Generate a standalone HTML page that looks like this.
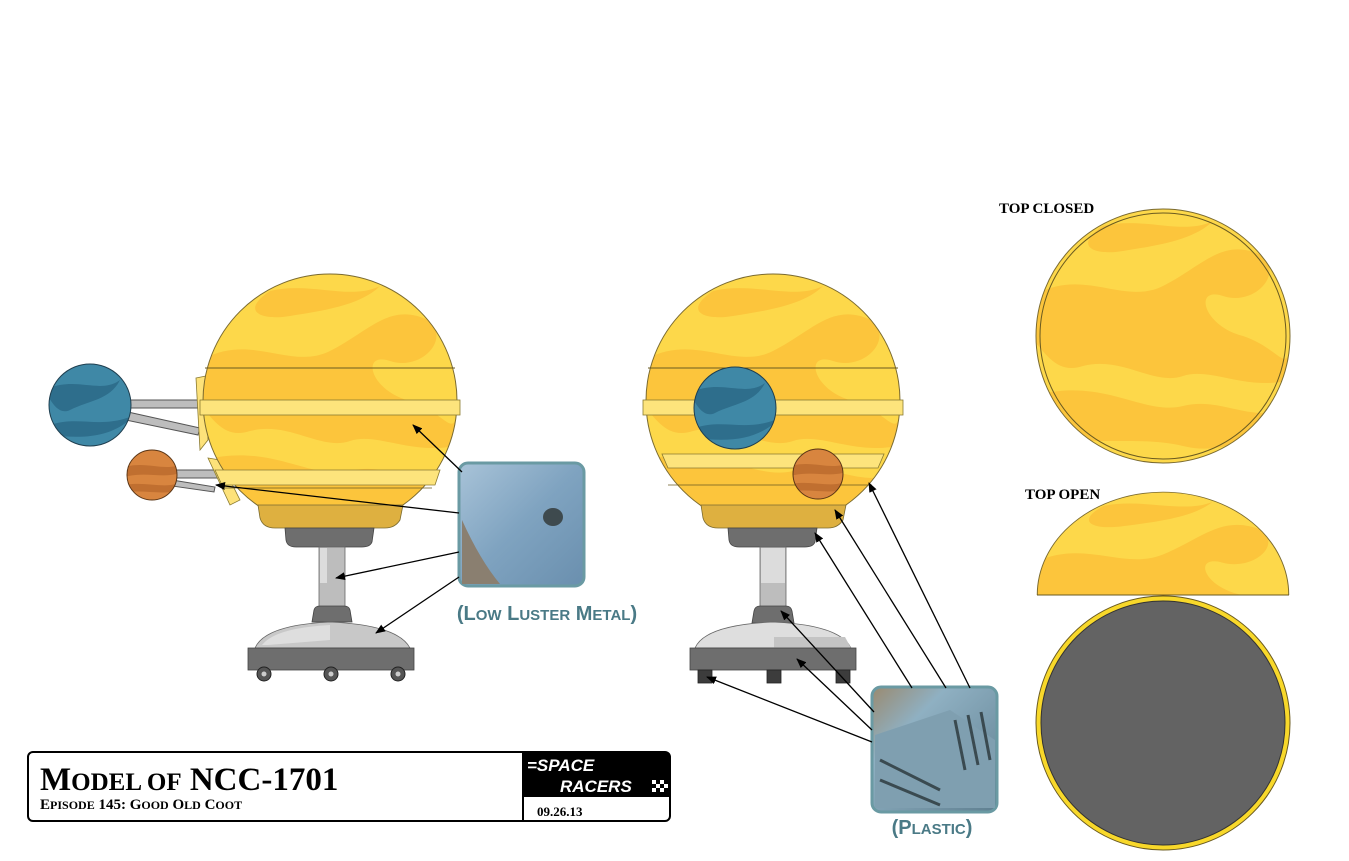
<!DOCTYPE html>
<html><head><meta charset="utf-8"><style>
html,body{margin:0;padding:0;background:#fff;width:1349px;height:861px;overflow:hidden}
svg{display:block}
</style></head><body>
<svg width="1349" height="861" viewBox="0 0 1349 861" xmlns="http://www.w3.org/2000/svg">
<defs>
  <marker id="ah" markerWidth="10" markerHeight="8" refX="9" refY="4" orient="auto" markerUnits="userSpaceOnUse">
    <path d="M0,0 L10,4 L0,8 Z" fill="#000"/>
  </marker>
  <clipPath id="sc"><circle cx="0" cy="0" r="127"/></clipPath>
  <clipPath id="bc"><circle cx="0" cy="0" r="41"/></clipPath>
  <clipPath id="oc"><circle cx="0" cy="0" r="25"/></clipPath>
  <g id="sun">
    <circle cx="0" cy="0" r="127" fill="#fdd84a"/>
    <g fill="#fcc53c" clip-path="url(#sc)">
      <path d="M-130,-40 C-80,-70 -40,-30 0,-50 C40,-70 60,-100 100,-80 C120,-60 90,-30 60,-40 C30,-50 40,-10 80,0 C110,10 120,30 125,20 L140,40 C90,60 50,30 20,40 C-10,50 -40,20 -80,30 C-110,40 -120,10 -135,0 Z"/>
      <path d="M-130,60 C-60,40 -20,80 20,70 C60,60 90,90 130,70 C100,100 60,120 20,110 C-20,100 -60,110 -130,100 Z"/>
      <path d="M-60,-110 C-20,-120 20,-100 50,-115 C30,-95 -10,-90 -40,-85 C-70,-80 -90,-90 -60,-110 Z"/>
      <path d="M30,20 C50,0 80,10 70,30 C60,45 40,40 30,20 Z"/>
    </g>
    <circle cx="0" cy="0" r="127" fill="none" stroke="#7a6a30" stroke-width="1"/>
  </g>
  <clipPath id="half"><rect x="1030" y="480" width="270" height="115"/></clipPath>
  <g id="blue">
    <circle r="41" fill="#3f88a6"/>
    <path clip-path="url(#bc)" d="M-45,-15 C-15,-30 10,-10 30,-25 C20,-5 0,-5 -20,5 C-30,10 -38,0 -45,-15 Z M-40,20 C-10,10 10,25 45,10 C25,30 0,35 -40,30 Z" fill="#2e6e8c"/>
    <circle r="41" fill="none" stroke="#1f3f50" stroke-width="1"/>
  </g>
  <g id="orange">
    <circle r="25" fill="#d8853f"/>
    <path clip-path="url(#oc)" d="M-28,-8 C-5,-14 10,-4 28,-10 L28,-2 C10,4 -5,-4 -28,2 Z M-28,10 C-5,6 10,14 28,8 L28,16 C5,20 -10,14 -28,18 Z" fill="#c06f30"/>
    <circle r="25" fill="none" stroke="#5a3515" stroke-width="1"/>
  </g>
  <linearGradient id="metal" x1="0" y1="0" x2="1" y2="1">
    <stop offset="0" stop-color="#a8c3d8"/><stop offset="0.5" stop-color="#7fa3c0"/><stop offset="1" stop-color="#6a8fae"/>
  </linearGradient>
  <linearGradient id="plastic" x1="0" y1="0" x2="1" y2="1">
    <stop offset="0" stop-color="#9a8a70"/><stop offset="0.3" stop-color="#8fb0c2"/><stop offset="1" stop-color="#5f7f90"/>
  </linearGradient>
</defs>

<!-- LEFT MODEL -->
<g stroke="#555" stroke-width="1">
  <path d="M128,400 L205,400 L205,408 L128,408 Z" fill="#bdbdbd"/>
  <path d="M128,412 L200,428 L198,435 L126,420 Z" fill="#bdbdbd"/>
  <path d="M172,470 L222,470 L222,478 L172,478 Z" fill="#bdbdbd"/>
  <path d="M172,480 L215,487 L214,492 L172,486 Z" fill="#bdbdbd"/>
</g>
<path d="M196,378 L206,376 L208,440 L200,450 Z" fill="#fde27a" stroke="#8a7a30" stroke-width="0.8"/>
<path d="M208,458 L220,460 L240,500 L230,505 Z" fill="#fde27a" stroke="#8a7a30" stroke-width="0.8"/>
<use href="#sun" x="330" y="401"/>
<line x1="205" y1="368" x2="455" y2="368" stroke="#6a5a20" stroke-width="1"/>
<rect x="200" y="400" width="260" height="15" fill="#fde47c" stroke="#8a7a30" stroke-width="0.8"/>
<path d="M215,470 L440,470 L435,485 L222,485 Z" fill="#fde47c" stroke="#8a7a30" stroke-width="0.8"/>
<line x1="225" y1="488" x2="432" y2="488" stroke="#6a5a20" stroke-width="0.8"/>
<path d="M258,505 L403,505 L400,520 Q395,528 385,528 L275,528 Q263,528 260,518 Z" fill="#deb040" stroke="#7a6a30" stroke-width="0.8"/>
<path d="M285,528 L374,528 L372,542 Q370,547 362,547 L296,547 Q287,547 286,540 Z" fill="#6e6e6e" stroke="#444" stroke-width="0.8"/>
<rect x="319" y="547" width="26" height="60" fill="#bdbdbd" stroke="#666" stroke-width="0.8"/>
<rect x="320" y="548" width="7" height="35" fill="#dcdcdc"/>
<path d="M312,622 L314,610 Q315,606 320,606 L344,606 Q349,606 350,610 L352,622 Z" fill="#6e6e6e" stroke="#444" stroke-width="0.8"/>
<path d="M255,648 Q265,625 330,622 Q398,625 410,648 Z" fill="#c8c8c8" stroke="#666" stroke-width="0.8"/>
<path d="M262,645 Q275,628 330,625 L330,640 L268,645 Z" fill="#dedede"/>
<rect x="248" y="648" width="166" height="22" fill="#6e6e6e" stroke="#444" stroke-width="0.8"/>
<g fill="#555" stroke="#222" stroke-width="1">
  <circle cx="264" cy="674" r="7"/><circle cx="331" cy="674" r="7"/><circle cx="398" cy="674" r="7"/>
</g>
<g fill="#ccc"><circle cx="264" cy="674" r="2.5"/><circle cx="331" cy="674" r="2.5"/><circle cx="398" cy="674" r="2.5"/></g>
<use href="#blue" x="90" y="405"/>
<use href="#orange" x="152" y="475"/>

<!-- left photo -->
<rect x="459" y="463" width="125" height="123" rx="9" fill="url(#metal)" stroke="#6a9aa3" stroke-width="3"/>
<path d="M462,520 Q480,560 500,584 L462,584 Z" fill="#8a7f70"/>
<ellipse cx="553" cy="517" rx="10" ry="9" fill="#3e4a4e"/>
<text x="547" y="620" text-anchor="middle" font-family="Liberation Sans, sans-serif" font-weight="bold" font-size="20" fill="#4a7a86">(L<tspan font-size="15">OW</tspan> L<tspan font-size="15">USTER</tspan> M<tspan font-size="15">ETAL</tspan>)</text>

<g stroke="#000" stroke-width="1.3" fill="none" marker-end="url(#ah)">
  <line x1="462" y1="472" x2="413" y2="425"/>
  <line x1="459" y1="513" x2="216" y2="485"/>
  <line x1="459" y1="552" x2="336" y2="578"/>
  <line x1="459" y1="577" x2="376" y2="633"/>
</g>

<!-- MIDDLE MODEL -->
<use href="#sun" x="773" y="401"/>
<line x1="648" y1="368" x2="898" y2="368" stroke="#6a5a20" stroke-width="1"/>
<rect x="643" y="400" width="260" height="15" fill="#fde47c" stroke="#8a7a30" stroke-width="0.8"/>
<path d="M662,454 L884,454 L878,468 L668,468 Z" fill="#fde47c" stroke="#8a7a30" stroke-width="0.8"/>
<line x1="668" y1="485" x2="872" y2="485" stroke="#6a5a20" stroke-width="0.8"/>
<use href="#blue" x="735" y="408"/>
<use href="#orange" x="818" y="474"/>
<path d="M701,505 L846,505 L843,520 Q838,528 828,528 L718,528 Q706,528 703,518 Z" fill="#deb040" stroke="#7a6a30" stroke-width="0.8"/>
<path d="M728,528 L817,528 L815,542 Q813,547 805,547 L739,547 Q730,547 729,540 Z" fill="#6e6e6e" stroke="#444" stroke-width="0.8"/>
<rect x="760" y="547" width="26" height="60" fill="#bdbdbd" stroke="#666" stroke-width="0.8"/>
<rect x="761" y="548" width="24" height="35" fill="#dcdcdc"/>
<path d="M752,623 L754,611 Q755,606 760,606 L786,606 Q791,606 792,611 L794,623 Z" fill="#6e6e6e" stroke="#444" stroke-width="0.8"/>
<path d="M695,648 Q705,625 773,622 Q840,625 851,648 Z" fill="#dedede" stroke="#666" stroke-width="0.8"/>
<path d="M774,648 L774,637 L845,637 L851,648 Z" fill="#c4c4c4"/>
<rect x="690" y="648" width="166" height="22" fill="#6e6e6e" stroke="#444" stroke-width="0.8"/>
<g fill="#3c3c3c" stroke="#222" stroke-width="0.8">
  <rect x="698" y="670" width="14" height="13"/><rect x="767" y="670" width="14" height="13"/><rect x="836" y="670" width="14" height="13"/>
</g>

<!-- middle photo -->
<rect x="872" y="687" width="125" height="125" rx="9" fill="url(#plastic)" stroke="#6a9aa3" stroke-width="3"/>
<path d="M875,735 L950,710 L995,740 L995,808 L875,808 Z" fill="#7f9fb0"/>
<g stroke="#3a4a50" stroke-width="3">
  <line x1="955" y1="720" x2="965" y2="770"/><line x1="968" y1="715" x2="978" y2="765"/><line x1="981" y1="712" x2="990" y2="760"/>
  <line x1="880" y1="760" x2="940" y2="790"/><line x1="880" y1="780" x2="940" y2="805"/>
</g>
<text x="932" y="834" text-anchor="middle" font-family="Liberation Sans, sans-serif" font-weight="bold" font-size="20" fill="#4a7a86">(P<tspan font-size="15">LASTIC</tspan>)</text>

<g stroke="#000" stroke-width="1.3" fill="none" marker-end="url(#ah)">
  <line x1="872" y1="742" x2="707" y2="677"/>
  <line x1="872" y1="730" x2="797" y2="659"/>
  <line x1="874" y1="712" x2="781" y2="611"/>
  <line x1="912" y1="688" x2="815" y2="533"/>
  <line x1="946" y1="688" x2="835" y2="510"/>
  <line x1="970" y1="688" x2="869" y2="483"/>
</g>

<!-- RIGHT VIEWS -->
<text x="999" y="213" font-family="Liberation Serif, serif" font-weight="bold" font-size="15" fill="#000">TOP CLOSED</text>
<use href="#sun" x="1163" y="336"/>
<circle cx="1163" cy="336" r="123" fill="none" stroke="#6a5a20" stroke-width="1"/>
<text x="1025" y="499" font-family="Liberation Serif, serif" font-weight="bold" font-size="15" fill="#000">TOP OPEN</text>
<g clip-path="url(#half)"><use href="#sun" transform="translate(1163,595) scale(0.99,0.81)"/></g>
<line x1="1037" y1="595" x2="1289" y2="595" stroke="#6a5a20" stroke-width="1"/>
<circle cx="1163" cy="723" r="127" fill="#f8d82a" stroke="#6a5a20" stroke-width="1"/>
<circle cx="1163" cy="723" r="122" fill="#636363" stroke="#333" stroke-width="1"/>

<!-- TITLE BLOCK -->
<rect x="28" y="752" width="642" height="69" rx="5" fill="#fff" stroke="#000" stroke-width="2"/>
<path d="M523,752 L665,752 Q670,752 670,757 L670,797 L523,797 Z" fill="#000"/>
<line x1="523" y1="752" x2="523" y2="821" stroke="#000" stroke-width="2"/>
<text x="40" y="790" font-family="Liberation Serif, serif" font-weight="bold" font-size="33" fill="#000">M<tspan font-size="25">ODEL OF</tspan> NCC-1701</text>
<text x="40" y="809" font-family="Liberation Serif, serif" font-weight="bold" font-size="15" fill="#000">E<tspan font-size="12">PISODE</tspan> 145: G<tspan font-size="12">OOD</tspan> O<tspan font-size="12">LD</tspan> C<tspan font-size="12">OOT</tspan></text>
<text x="527" y="771" font-family="Liberation Sans, sans-serif" font-style="italic" font-weight="bold" font-size="17" fill="#fff">=SPACE</text>
<text x="560" y="792" font-family="Liberation Sans, sans-serif" font-style="italic" font-weight="bold" font-size="17" fill="#fff">RACERS</text>
<g fill="#fff"><rect x="652" y="780" width="4" height="4"/><rect x="660" y="780" width="4" height="4"/><rect x="656" y="784" width="4" height="4"/><rect x="664" y="784" width="4" height="4"/><rect x="652" y="788" width="4" height="4"/><rect x="660" y="788" width="4" height="4"/></g>
<text x="537" y="816" font-family="Liberation Serif, serif" font-weight="bold" font-size="13" fill="#000">09.26.13</text>
</svg>
</body></html>
